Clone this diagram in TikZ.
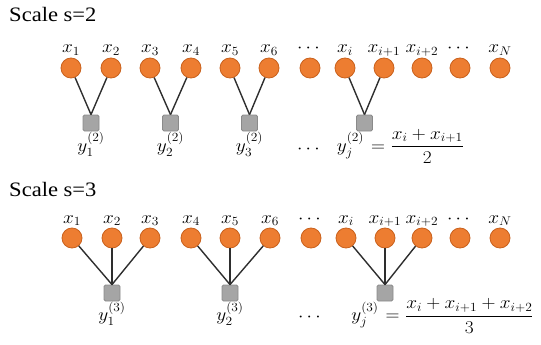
\documentclass[tikz,border=0pt]{standalone}
\usepackage{amsmath}
\usepackage{fontspec}
\setmainfont{Liberation Serif}
\usetikzlibrary{positioning}
\definecolor{dotfill}{HTML}{ED7D31}
\definecolor{dotedge}{HTML}{C9611C}
\definecolor{boxfill}{HTML}{A5A5A5}
\definecolor{boxedge}{HTML}{8A8A8A}
\definecolor{linkcol}{HTML}{2E2E2E}
\tikzset{
  dot/.style={circle, fill=dotfill, draw=dotedge, line width=0.8pt, minimum size=20pt, inner sep=0pt},
  pool/.style={rectangle, rounded corners=1.5pt, fill=boxfill, draw=boxedge, line width=0.8pt, minimum size=16pt, inner sep=0pt},
  link/.style={draw=linkcol, line width=1.4pt},
  mathfont/.style={font=\fontsize{17.28}{20}\selectfont, xscale=1.12, yscale=1.04, transform shape},
  xlab/.style={anchor=base, inner sep=0pt, mathfont},
  ylab/.style={anchor=north, inner sep=0pt, mathfont},
  heading/.style={anchor=base west, inner sep=0pt, font=\fontsize{20.5}{24}\selectfont, xscale=1.1, transform shape},
}
\begin{document}
\begin{tikzpicture}[x=1pt,y=1pt]
\useasboundingbox (0,0) rectangle (541,-345);

% ---------- scale s = 2 ----------
\node[heading] (h2) at (9,-22) {Scale s=2};
\foreach \px/\lab [count=\k] in {71/x_1,111/x_2,150/x_3,191/x_4,230/x_5,269/x_6,
    310/\cdots,345/x_i,384/x_{i+1},422/x_{i+2},460/\cdots,500/x_N}{
  \node[dot] (a\k) at (\px,-68) {};
  \node[xlab] (la\k) at (\px,-53) {$\lab$};
}
\node[pool] (s1) at (91,-123) {};
\node[pool] (s2) at (170.5,-123) {};
\node[pool] (s3) at (249.5,-123) {};
\node[pool] (s4) at (364.5,-123) {};
\foreach \i/\j/\s in {1/2/s1,3/4/s2,5/6/s3,8/9/s4}{
  \draw[link] (a\i) -- (\s.north);
  \draw[link] (a\j) -- (\s.north);
}
\node[ylab] (ys1) at ([yshift=-1pt]s1.south) {$y_1^{(2)}$};
\node[ylab] (ys2) at ([yshift=-1pt]s2.south) {$y_2^{(2)}$};
\node[ylab] (ys3) at ([yshift=-1pt]s3.south) {$y_3^{(2)}$};
\node[ylab] (ys4) at ([xshift=-14pt,yshift=-1pt]s4.south) {$y_j^{(2)}$};
\node[xlab] (yd2) at (310,-153) {$\cdots$};
\node[anchor=base west, inner sep=1pt, mathfont]
  (f2) at (ys4.base east) {$\;=\dfrac{x_i+x_{i+1}}{2}$};

% ---------- scale s = 3 ----------
\node[heading] (h3) at (9,-196) {Scale s=3};
\foreach \px/\lab [count=\k] in {72/x_1,112/x_2,150/x_3,191/x_4,230/x_5,270/x_6,
    311/\cdots,346/x_i,385/x_{i+1},422/x_{i+2},460/\cdots,500/x_N}{
  \node[dot] (b\k) at (\px,-238) {};
  \node[xlab] (lb\k) at (\px,-223) {$\lab$};
}
\node[pool] (t1) at (112,-293) {};
\node[pool] (t2) at (230,-293) {};
\node[pool] (t3) at (385,-293) {};
\foreach \i/\j/\l/\s in {1/2/3/t1,4/5/6/t2,8/9/10/t3}{
  \draw[link] (b\i) -- (\s.north);
  \draw[link] (b\j) -- (\s.north);
  \draw[link] (b\l) -- (\s.north);
}
\node[ylab] (yt1) at ([yshift=-0.5pt]t1.south) {$y_1^{(3)}$};
\node[ylab] (yt2) at ([yshift=-0.5pt]t2.south) {$y_2^{(3)}$};
\node[ylab] (yt3) at ([xshift=-20pt,yshift=-0.5pt]t3.south) {$y_j^{(3)}$};
\node[xlab] (yd3) at (311,-321) {$\cdots$};
\node[anchor=base west, inner sep=1pt, mathfont]
  (f3) at (yt3.base east) {$\;=\dfrac{x_i+x_{i+1}+x_{i+2}}{3}$};
\end{tikzpicture}
\end{document}
